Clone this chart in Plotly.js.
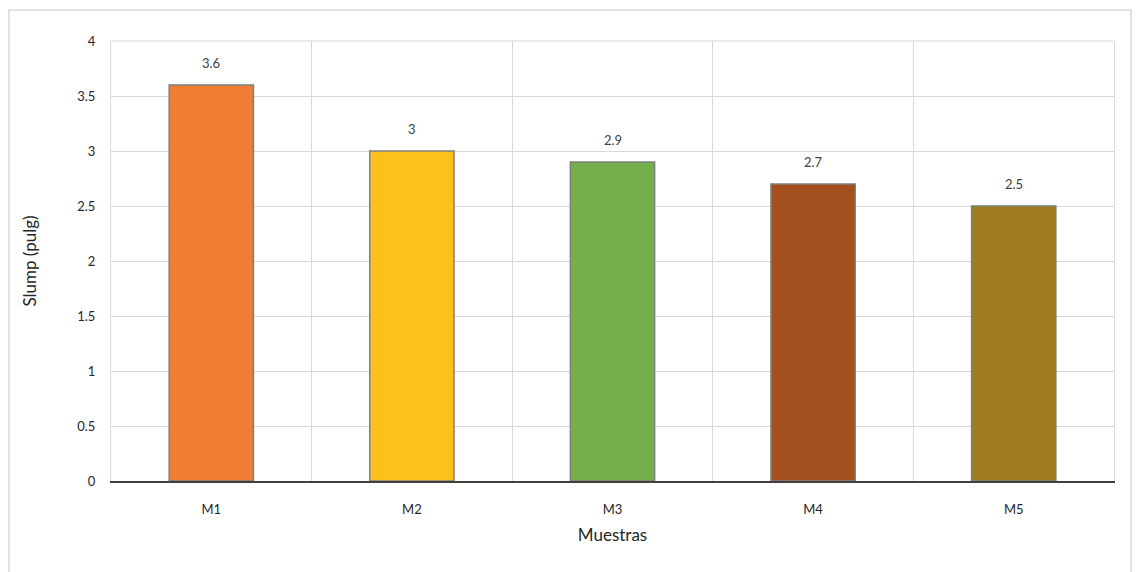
<!DOCTYPE html>
<html>
<head>
<meta charset="utf-8">
<script src="https://cdn.plot.ly/plotly-3.0.1.min.js"></script>
<style>html,body{margin:0;padding:0;background:#fff;}#chart{width:1140px;height:572px;}</style>
</head>
<body>
<div id="chart"></div>
<script>
const categories = ["M1", "M2", "M3", "M4", "M5"];
const slump = [3.6, 3.0, 2.9, 2.7, 2.5];
const labels = ["3.6", "3", "2.9", "2.7", "2.5"];
const barColors = ["#EF7D33", "#FDC11C", "#72AF4B", "#A4501E", "#A07C1E"];

const FONT = "Lato, 'Open Sans', Arial, sans-serif";

const trace = {
  type: "bar",
  x: categories,
  y: slump,
  width: 0.42,
  marker: {color: barColors, line: {color: "#7F7F7F", width: 1.5}},
  hoverinfo: "x+y"
};

const annotations = categories.map((c, i) => ({
  x: c, y: slump[i], xref: "x", yref: "y",
  text: labels[i], showarrow: false,
  yanchor: "bottom", yshift: 12,
  font: {family: FONT, size: 13, color: "#404040"}
}));

const layout = {
  width: 1140, height: 572,
  margin: {l: 111, r: 26, t: 41, b: 91},
  paper_bgcolor: "#ffffff",
  plot_bgcolor: "#ffffff",
  showlegend: false,
  font: {family: FONT, color: "#333"},
  xaxis: {
    type: "category",
    tickson: "boundaries",
    showgrid: true,
    gridcolor: "#D9D9D9",
    gridwidth: 1,
    ticks: "",
    showline: true,
    linecolor: "#404040",
    linewidth: 1.5,
    ticklabelstandoff: 16,
    tickfont: {size: 13, color: "#262626"},
    title: {text: "Muestras", font: {size: 17, color: "#262626"}, standoff: 13}
  },
  yaxis: {
    range: [0, 4],
    dtick: 0.5,
    showgrid: true,
    gridcolor: "#D9D9D9",
    gridwidth: 1,
    zeroline: false,
    showline: true,
    mirror: true,
    linecolor: "#D9D9D9",
    linewidth: 1,
    ticks: "",
    ticklabelstandoff: 12,
    tickfont: {size: 13, color: "#262626"},
    title: {text: "Slump (pulg)", font: {size: 17, color: "#262626"}, standoff: 36}
  },
  annotations: annotations,
  shapes: [
    {type: "rect", xref: "paper", yref: "paper", x0: -0.1017, x1: 1.017, y0: -0.3, y1: 1.0705,
     line: {color: "#D9D9D9", width: 1.5}, fillcolor: "rgba(0,0,0,0)", layer: "below"},
    {type: "line", xref: "paper", yref: "paper", x0: 0, x1: 1, y0: 1, y1: 1,
     line: {color: "#D9D9D9", width: 1}, layer: "below"}
  ]
};

Plotly.newPlot("chart", [trace], layout, {displayModeBar: false, staticPlot: true});
</script>
</body>
</html>
